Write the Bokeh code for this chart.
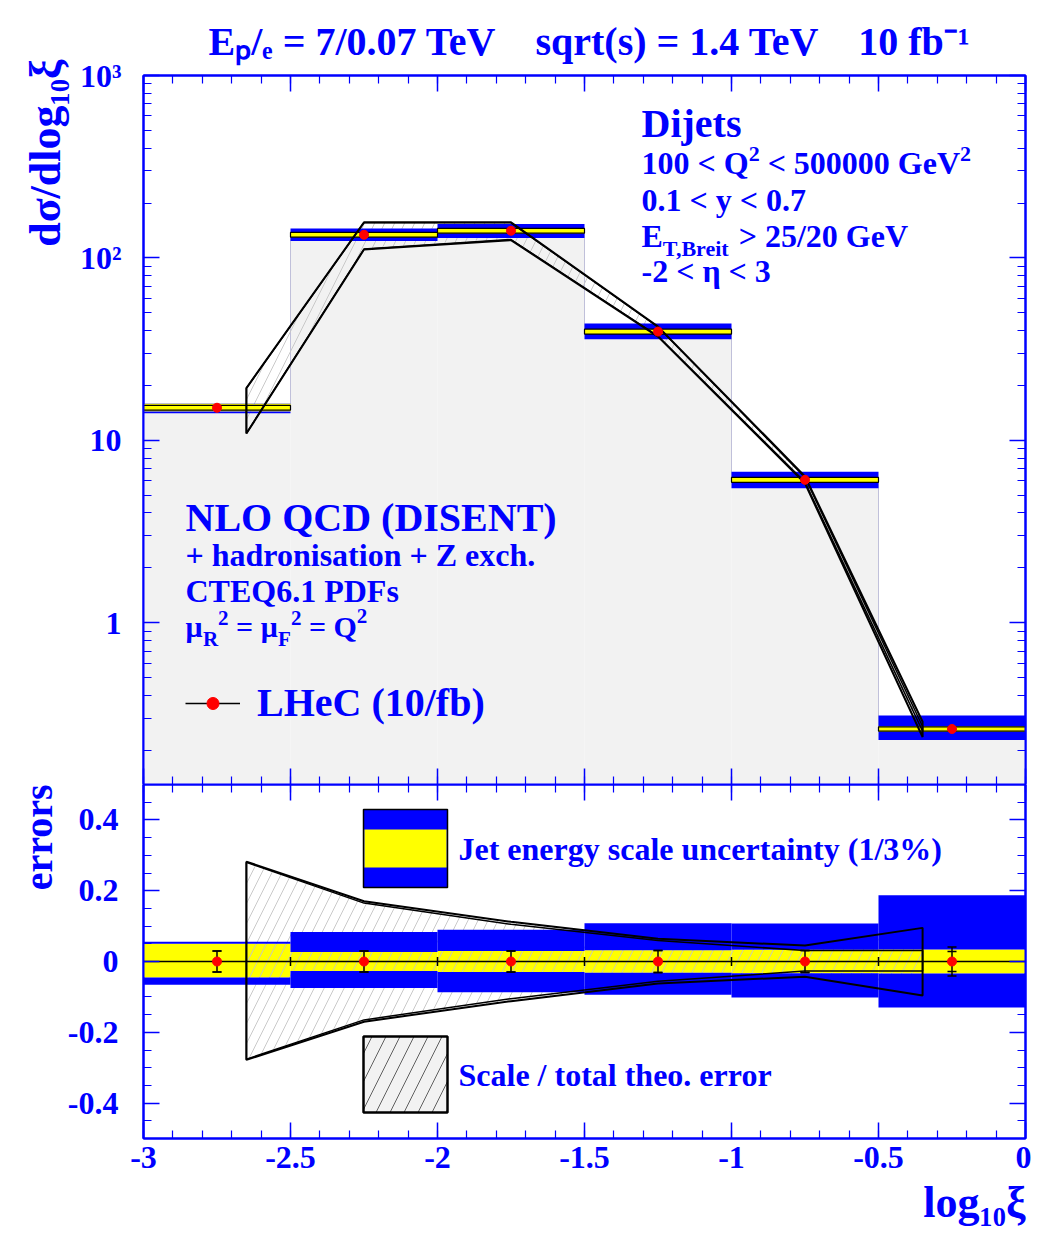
import math
from bokeh.plotting import figure
from bokeh.models import (Range1d, LinearAxis, LogAxis, SingleIntervalTicker, LogTicker,
                          ColumnDataSource, Label, Legend, LegendItem, CustomJSTickFormatter, Title)
from bokeh.layouts import column
from bokeh.embed import file_html
from bokeh.resources import INLINE

# ---------------- data ----------------
bin_lo = [-3.0, -2.5, -2.0, -1.5, -1.0, -0.5]
bin_hi = [-2.5, -2.0, -1.5, -1.0, -0.5, 0.0]
xsec = [15.1, 134.0, 141.0, 39.5, 6.08, 0.262]          # dsigma/dlog10(xi)
stat_err = [0.030, 0.030, 0.030, 0.031, 0.031, 0.028]   # relative
tot_err = [0.030, 0.030, 0.030, 0.031, 0.031, 0.041]    # relative
jes3_up = [0.056, 0.083, 0.090, 0.108, 0.107, 0.187]    # blue band
jes3_dn = [-0.066, -0.075, -0.087, -0.094, -0.102, -0.130]
jes1_up = [0.050, 0.027, 0.030, 0.032, 0.033, 0.034]    # yellow band
jes1_dn = [-0.045, -0.027, -0.030, -0.032, -0.033, -0.034]
theo_x = [-2.65, -2.25, -1.75, -1.25, -0.75, -0.35]
tot_up = [0.282, 0.170, 0.112, 0.064, 0.045, 0.095]     # total theo. error
tot_dn = [-0.278, -0.170, -0.112, -0.062, -0.043, -0.096]
scl_up = [0.280, 0.165, 0.105, 0.059, 0.031, 0.031]     # scale error
scl_dn = [-0.276, -0.165, -0.105, -0.056, -0.027, -0.027]
x_ticks_labels = {-3: "-3", -2.5: "-2.5", -2: "-2", -1.5: "-1.5", -1: "-1", -0.5: "-0.5", 0: "0"}
y_top_labels = {1: "1", 10: "10", 100: "10²", 1000: "10³"}
y_bot_labels = {0.4: "0.4", 0.2: "0.2", 0: "0", -0.2: "-0.2", -0.4: "-0.4"}

# ---------------- styling / geometry ----------------
BLUE = "#0000ff"
YEL = "#ffff00"
FONT = "Liberation Serif"
Y_MIN, Y_MAX = 0.13, 1000.0
W_FIG, H1, H2 = 1031, 784, 450
FL, FR, FT1 = 143, 6, 75
F_W, F1_H, F2_H = 882, 709, 354
LL, LH = math.log10(Y_MIN), math.log10(Y_MAX)
NB = "\u00a0"


def xd(px):
    return -3 + (px - FL) / F_W * 3


def yt(py):
    return 10 ** (LH - (py - FT1) / F1_H * (LH - LL))


TOP2 = H1


def yb(py):
    return 0.5 - (py - TOP2) / F2_H


WID = {' ': 250, '!': 333, '(': 333, ')': 333, '+': 570, ',': 250, '-': 333, '.': 250, '/': 278,
       '%': 1000, '<': 570, '=': 570, '>': 570, 'σ': 590, 'ξ': 470, 'η': 556, 'μ': 580}
for c in "0123456789":
    WID[c] = 500
for c, w in zip("ABCDEFGHIJKLMNOPQRSTUVWXYZ",
                [722, 667, 722, 722, 667, 611, 778, 778, 389, 500, 778, 667, 944, 722, 778, 611, 778,
                 722, 556, 667, 722, 722, 1000, 722, 722, 667]):
    WID[c] = w
for c, w in zip("abcdefghijklmnopqrstuvwxyz",
                [500, 556, 444, 556, 444, 333, 500, 556, 278, 333, 556, 278, 833, 556, 500, 556, 556,
                 444, 389, 333, 556, 500, 722, 500, 500, 444]):
    WID[c] = w


def tw(s, size):
    return sum(WID.get(c, 500) for c in s) / 1000.0 * size


def rich(fig, px, py, parts, ymap):
    cur = 0.0
    for text, size, dy in parts:
        lead = len(text) - len(text.lstrip(" "))
        cur += lead * 0.25 * size
        t = text.strip(" ")
        x, y = xd(px + cur), ymap(py + dy - 0.36 * size)
        fig.add_layout(Label(x=x, y=y, text=t, text_font=FONT, text_font_style="bold",
                             text_font_size=f"{size}px", text_color=BLUE, text_align="left",
                             text_baseline="alphabetic"))
        cur += tw(t, size)
        trail = (len(text) - len(text.rstrip(" "))) if text.strip(" ") else 0
        cur += trail * 0.25 * size


def style_title(t, size=40):
    t.text_font = FONT
    t.text_font_style = "bold"
    t.text_font_size = f"{size}px"
    t.text_color = BLUE


def style_axis(ax, labels, overrides=None, standoff=10):
    ax.axis_line_color = BLUE
    ax.axis_line_width = 2
    ax.major_tick_line_color = BLUE
    ax.minor_tick_line_color = BLUE
    ax.major_tick_line_width = 1.5
    ax.minor_tick_line_width = 1.2
    ax.major_tick_in = 16
    ax.major_tick_out = 0
    ax.minor_tick_in = 8
    ax.minor_tick_out = 0
    if labels:
        ax.major_label_text_font = FONT
        ax.major_label_text_font_style = "bold"
        ax.major_label_text_font_size = "32px"
        ax.major_label_text_color = BLUE
        ax.major_label_standoff = standoff
        if overrides:
            ax.major_label_overrides = overrides
    else:
        ax.formatter = CustomJSTickFormatter(code="return ''")
        ax.major_label_text_font_size = "1px"
        ax.major_label_standoff = 0


def xticker():
    return SingleIntervalTicker(interval=0.5, num_minor_ticks=5)


def logticker():
    return LogTicker(mantissas=[1], num_minor_ticks=10, desired_num_ticks=5)


# ---------------- top panel ----------------
xc = [(a + b) / 2 for a, b in zip(bin_lo, bin_hi)]

p1 = figure(width=W_FIG, height=H1, x_range=Range1d(-3, 0), y_range=Range1d(Y_MIN, Y_MAX),
            y_axis_type="log", output_backend="svg", toolbar_location=None,
            min_border_left=FL, min_border_right=FR, min_border_top=FT1, min_border_bottom=0)
p1.xgrid.grid_line_color = None
p1.ygrid.grid_line_color = None
p1.outline_line_color = BLUE
p1.outline_line_width = 2
p1.xaxis[0].ticker = xticker()
style_axis(p1.xaxis[0], False)
p1.yaxis[0].ticker = logticker()
style_axis(p1.yaxis[0], True, y_top_labels, standoff=22)
ax = LinearAxis(ticker=xticker())
style_axis(ax, False)
p1.add_layout(ax, "above")
ax = LogAxis(ticker=logticker())
style_axis(ax, False)
p1.add_layout(ax, "right")

# header
p1.title.text = ("Eₚ/ₑ = 7/0.07 TeV" + NB * 4 + "sqrt(s) = 1.4 TeV" + NB * 4 + "10 fb⁻¹")
style_title(p1.title)
p1.title.align = "left"
p1.title.offset = 65
p1.title.standoff = 24
# y title
ytitle = Title(text="dσ/dlog₁₀ξ", align="right", standoff=14, offset=-16)
style_title(ytitle, 44)
p1.add_layout(ytitle, "left")

lo3 = [v * (1 + d) for v, d in zip(xsec, jes3_dn)]
hi3 = [v * (1 + u) for v, u in zip(xsec, jes3_up)]
lo1 = [v * (1 + d) for v, d in zip(xsec, jes1_dn)]
hi1 = [v * (1 + u) for v, u in zip(xsec, jes1_up)]

# histogram (NLO prediction)
p1.quad(left=bin_lo, right=bin_hi, bottom=Y_MIN, top=xsec, fill_color="#f2f2f2", line_color=None)
p1.step(x=bin_lo + [bin_hi[-1]], y=xsec + [xsec[-1]], mode="after", line_color="#c0c0da", line_width=1)

# jet energy scale bands, theory hatch
tx = theo_x + theo_x[::-1]
ty_tot = [v * (1 + u) for v, u in zip(xsec, tot_up)] + [v * (1 + d) for v, d in zip(xsec, tot_dn)][::-1]
ty_scl = [v * (1 + u) for v, u in zip(xsec, scl_up)] + [v * (1 + d) for v, d in zip(xsec, scl_dn)][::-1]
p1.quad(left=bin_lo, right=bin_hi, bottom=lo1, top=hi1, fill_color=YEL, line_color=None)
p1.patch(tx, ty_tot, fill_alpha=0, hatch_pattern="/", hatch_color="#c4c4c4", hatch_scale=20,
         hatch_weight=0.9, line_color=None)
p1.quad(left=bin_lo, right=bin_hi, bottom=hi1, top=hi3, fill_color=BLUE, line_color=None)
p1.quad(left=bin_lo, right=bin_hi, bottom=lo3, top=lo1, fill_color=BLUE, line_color=None)
p1.quad(left=bin_lo, right=bin_hi, bottom=[v * (1 - e) for v, e in zip(xsec, stat_err)],
        top=[v * (1 + e) for v, e in zip(xsec, stat_err)], fill_color=YEL, line_color="black",
        line_width=1.2)
p1.patch(tx, ty_tot, fill_alpha=0, line_color="black", line_width=2)
p1.patch(tx, ty_scl, fill_alpha=0, line_color="black", line_width=1.5)

src1 = ColumnDataSource(dict(xc=xc, y=xsec, lo=[v * (1 - e) for v, e in zip(xsec, stat_err)],
                             hi=[v * (1 + e) for v, e in zip(xsec, stat_err)]))
vbar = p1.segment(x0="xc", x1="xc", y0="lo", y1="hi", source=src1, line_color="black", line_width=1.5)
dots1 = p1.scatter("xc", "y", source=src1, size=9, color="red")

legend = Legend(items=[LegendItem(label="LHeC (10/fb)", renderers=[vbar, dots1])],
                location=(42, 58), label_text_font=FONT, label_text_font_style="bold",
                label_text_font_size="40px", label_text_color=BLUE, glyph_width=55, glyph_height=30,
                label_standoff=17, padding=0, margin=0, spacing=0, border_line_alpha=0,
                background_fill_alpha=0)
p1.add_layout(legend)

# texts, top panel
rich(p1, 641, 137, [("Dijets", 40, 0)], yt)
rich(p1, 641, 174, [("100 < Q", 32, 0), ("2", 22, -13), (" < 500000 GeV", 32, 0), ("2", 22, -13)], yt)
rich(p1, 641, 211, [("0.1 < y < 0.7", 32, 0)], yt)
rich(p1, 641, 247, [("E", 32, 0), ("T,Breit", 22, 9), (" > 25/20 GeV", 32, 0)], yt)
rich(p1, 641, 282, [("-2 < η < 3", 32, 0)], yt)
rich(p1, 185, 531, [("NLO QCD (DISENT)", 40, 0)], yt)
rich(p1, 185, 566, [("+ hadronisation + Z exch.", 32, 0)], yt)
rich(p1, 185, 602, [("CTEQ6.1 PDFs", 32, 0)], yt)
rich(p1, 185, 637, [("μ", 30, 0), ("R", 21, 9), ("2", 21, -12), (" = μ", 30, 0), ("F", 21, 9),
                    ("2", 21, -12), (" = Q", 30, 0), ("2", 21, -14)], yt)

# ---------------- bottom panel ----------------
p2 = figure(width=W_FIG, height=H2, x_range=p1.x_range, y_range=Range1d(-0.5, 0.5),
            output_backend="svg", toolbar_location=None,
            min_border_left=FL, min_border_right=FR, min_border_top=0, min_border_bottom=H2 - F2_H)
p2.xgrid.grid_line_color = None
p2.ygrid.grid_line_color = None
p2.outline_line_color = BLUE
p2.outline_line_width = 2
p2.xaxis[0].ticker = xticker()
style_axis(p2.xaxis[0], True, x_ticks_labels, standoff=8)
p2.yaxis[0].ticker = SingleIntervalTicker(interval=0.2, num_minor_ticks=4)
style_axis(p2.yaxis[0], True, y_bot_labels, standoff=25)
ax = LinearAxis(ticker=xticker())
style_axis(ax, False)
p2.add_layout(ax, "above")
ax = LinearAxis(ticker=SingleIntervalTicker(interval=0.2, num_minor_ticks=4))
style_axis(ax, False)
p2.add_layout(ax, "right")
etitle = Title(text="errors", align="right", standoff=8)
style_title(etitle)
p2.add_layout(etitle, "left")
xtitle = Title(text="log₁₀ξ", align="right", standoff=10)
style_title(xtitle, 44)
p2.add_layout(xtitle, "below")

p2.quad(left=bin_lo, right=bin_hi, bottom=jes1_dn, top=jes1_up, fill_color=YEL, line_color=None)
p2.patch(tx, tot_up + tot_dn[::-1], fill_alpha=0, hatch_pattern="/", hatch_color="#c4c4c4",
         hatch_scale=20, hatch_weight=0.9, line_color=None)
p2.quad(left=bin_lo, right=bin_hi, bottom=jes1_up, top=jes3_up, fill_color=BLUE, line_color=None)
p2.quad(left=bin_lo, right=bin_hi, bottom=jes3_dn, top=jes1_dn, fill_color=BLUE, line_color=None)
p2.patch(tx, tot_up + tot_dn[::-1], fill_alpha=0, line_color="black", line_width=2)
p2.patch(tx, scl_up + scl_dn[::-1], fill_alpha=0, line_color="black", line_width=1.5)

zeros = [0.0] * len(xc)
p2.segment(x0=bin_lo, x1=bin_hi, y0=zeros, y1=zeros, line_color="black", line_width=1.5)
p2.scatter(bin_lo[1:], zeros[1:], marker="dash", angle=math.pi / 2, size=9, line_color="black",
           line_width=1.5)
p2.segment(x0=xc, x1=xc, y0=[-e for e in tot_err], y1=tot_err, line_color="black", line_width=1.5)
p2.scatter(xc + xc, tot_err + [-e for e in tot_err], marker="dash", size=9, line_color="black",
           line_width=1.5)
p2.scatter(xc + xc, stat_err + [-e for e in stat_err], marker="dash", size=9, line_color="black",
           line_width=1.5)
p2.scatter(xc, zeros, size=9, color="red")

# legend boxes
p2.quad(left=[xd(363)], right=[xd(447)], bottom=[yb(887)], top=[yb(809)], fill_color=BLUE,
        line_color="black", line_width=1.5)
p2.quad(left=[xd(364)], right=[xd(446)], bottom=[yb(867)], top=[yb(829)], fill_color=YEL, line_color=None)
p2.quad(left=[xd(363)], right=[xd(447)], bottom=[yb(1112)], top=[yb(1036)], fill_color="#f2f2f2",
        hatch_pattern="/", hatch_color="#606060", hatch_scale=28, hatch_weight=1,
        line_color="black", line_width=2.5)
rich(p2, 458, 860, [("Jet energy scale uncertainty (1/3%)", 32, 0)], yb)
rich(p2, 458, 1086, [("Scale / total theo. error", 32, 0)], yb)

layout = column(p1, p2)
open("out.html", "w").write(file_html(layout, INLINE))
